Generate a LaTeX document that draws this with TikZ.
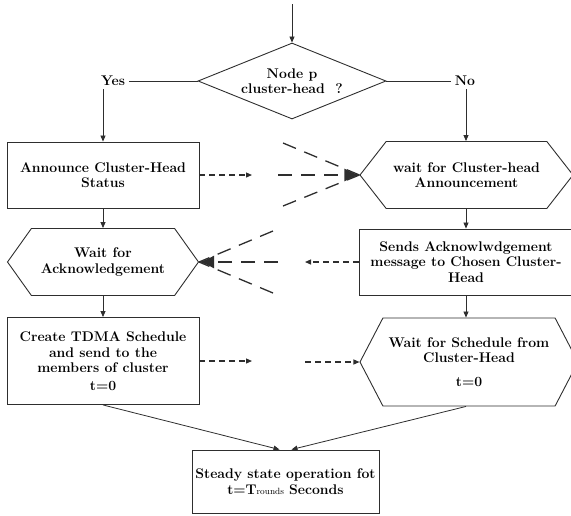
\documentclass[tikz,border=0pt]{standalone}
\usepackage{tikz}
\usetikzlibrary{arrows.meta, positioning, shapes.geometric, shapes.symbols}
\definecolor{linegray}{HTML}{2E2E2E}

\begin{document}
\begin{tikzpicture}[x=1pt, y=-1pt,
    font=\fontsize{14}{15.5}\selectfont\bfseries,
    box/.style={draw=linegray, line width=0.9pt, align=center, inner sep=2pt},
    hexa/.style={box, signal, signal to=east and west, signal pointer angle=#1},
    decision/.style={box, diamond, aspect=2.5, inner sep=0pt},
    arr/.style={draw=linegray, line width=0.8pt, -{Triangle[length=6pt,width=5pt]}},
    dsh/.style={arr, line width=1.2pt, dash pattern=on 6pt off 4pt},
    conv/.style={draw=linegray, line width=1.3pt, dash pattern=on 14pt off 9pt},
    convtip/.style={conv, -{Latex[length=15pt,width=13pt]}},
]
    \useasboundingbox (0,0) rectangle (571,515);

    \coordinate (top) at (292,4);
    \node[decision, minimum width=188pt, minimum height=76pt] (q) at (292,81) {Node p\\cluster-head\ \ ?};
    \node (yes) at (113,81) {Yes};
    \node (no) at (465,81) {No};

    \node[box, minimum width=192pt, minimum height=66pt] (a) at (103,175) {Announce Cluster-Head\\Status};
    \node[hexa=104, minimum width=213pt, minimum height=67pt] (b) at (466.5,175) {wait for Cluster-head\\Announcement};
    \node[hexa=109, minimum width=191pt, minimum height=67pt] (c) at (103,262) {Wait for\\Acknowledgement};
    \node[box, minimum width=214pt, minimum height=66pt] (d) at (466,262) {Sends Acknowlwdgement\\message to Chosen Cluster-\\Head};
    \node[box, minimum width=192pt, minimum height=87pt] (e) at (103,361) {Create TDMA Schedule\\and send to the\\members of cluster\\[2pt]t=0};
    \node[hexa=125, minimum width=218pt, minimum height=88pt] (f) at (469,362) {Wait for Schedule from\\Cluster-Head\\[8pt]t=0};
    \node[box, minimum width=187pt, minimum height=63pt] (g) at (285.5,481.5) {Steady state operation fot\\t=T{\fontsize{9}{9}\selectfont\mdseries rounds} Seconds};

    \draw[arr] (top) -- (q.north);
    \draw[draw=linegray, line width=0.8pt] (q.west) -- (yes.east);
    \draw[draw=linegray, line width=0.8pt] (q.east) -- (no.west);
    \draw[arr] (a.north |- yes.south) -- (a.north);
    \draw[arr] (d.north |- no.south) -- (d.north |- b.north);
    \draw[arr] (a.south) -- (c.north);
    \draw[arr] (d.north |- b.south) -- (d.north);
    \draw[arr] (c.south) -- (e.north);
    \draw[arr] (d.south) -- (d.south |- f.north);
    \draw[arr] (e.south) -- ([xshift=-6pt]g.north);
    \draw[arr] (d.south |- f.south) -- ([xshift=6pt]g.north);

    \coordinate (ab) at (252,175);
    \coordinate (bu) at (283,143);
    \coordinate (bm) at (278,175);
    \coordinate (bl) at (283,206);
    \draw[dsh] (a.east) -- (ab);
    \draw[conv] (bu) -- (b.west);
    \draw[conv] (bl) -- (b.west);
    \draw[convtip] (bm) -- (b.west);

    \coordinate (dc) at (305,262);
    \coordinate (cu) at (273,231);
    \coordinate (cm) at (278,262);
    \coordinate (cl) at (273,293);
    \draw[dsh] (d.west) -- (dc);
    \draw[conv] (cu) -- (c.east);
    \draw[conv] (cl) -- (c.east);
    \draw[convtip] (cm) -- (c.east);

    \coordinate (ef) at (252,361);
    \coordinate (fe) at (305,362);
    \draw[dsh] (e.east) -- (ef);
    \draw[dsh] (fe) -- (f.west);
\end{tikzpicture}
\end{document}
